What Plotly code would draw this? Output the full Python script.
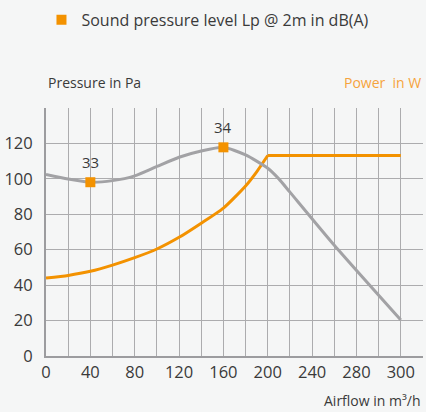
import plotly.graph_objects as go

# Airflow positions (as drawn on the chart's axis)
pressure_x = [0, 20, 40, 60, 80, 100, 120, 140, 160, 180, 200, 210, 220, 260, 320]
pressure_pa = [102.5, 99.9, 98.1, 99.0, 101.7, 107.0, 112.2, 115.7, 117.8, 113.5, 106.0, 100.0, 92.5, 62.5, 20.3]

power_x = [0, 20, 40, 60, 80, 100, 120, 140, 160, 180, 190, 200, 320]
power_w = [44.0, 45.5, 47.8, 51.3, 55.5, 60.4, 67.0, 75.0, 83.5, 96.0, 104.0, 113.2, 113.2]

sound_x = [40, 160]
sound_p = [98.1, 117.8]
sound_db = ["33", "34"]

x_tick_vals = [0, 40, 80, 120, 160, 200, 240, 280, 320]
x_tick_labels = ["0", "40", "80", "120", "160", "200", "240", "280", "300"]
y_tick_vals = [0, 20, 40, 60, 80, 100, 120]

ORANGE = "#f39200"
GREY = "#a2a2a5"
TEXT = "#3a3a3a"
FONT = "Open Sans"

fig = go.Figure()
# rising part of the power curve (smooth) and the flat plateau (straight)
fig.add_trace(go.Scatter(x=power_x[:-1], y=power_w[:-1], mode="lines",
                         line=dict(color=ORANGE, width=3, shape="spline", smoothing=0.6),
                         showlegend=False, hoverinfo="skip"))
fig.add_trace(go.Scatter(x=power_x[-2:], y=power_w[-2:], mode="lines",
                         line=dict(color=ORANGE, width=3),
                         showlegend=False, hoverinfo="skip"))
fig.add_trace(go.Scatter(x=pressure_x, y=pressure_pa, mode="lines",
                         line=dict(color=GREY, width=3, shape="spline", smoothing=0.6),
                         showlegend=False, hoverinfo="skip"))
fig.add_trace(go.Scatter(x=sound_x, y=sound_p, mode="markers",
                         marker=dict(symbol="square", size=10, color=ORANGE),
                         name="Sound pressure level Lp @ 2m in dB(A)", showlegend=True))
for sx, sy, st in zip(sound_x, sound_p, sound_db):
    fig.add_annotation(x=sx, y=sy, text=st, showarrow=False, yanchor="middle", yshift=20,
                       font=dict(size=15, color=TEXT, family=FONT))

grid_x = list(range(0, 341, 20))
fig.update_xaxes(range=[0, 340], tickvals=grid_x,
                 ticktext=[x_tick_labels[x_tick_vals.index(v)] if v in x_tick_vals else "" for v in grid_x],
                 showgrid=True, gridcolor="#acacae", gridwidth=1,
                 showline=True, linecolor="#9c9c9f", linewidth=2,
                 ticks="", tickfont=dict(size=16.5, color=TEXT, family=FONT), zeroline=False, fixedrange=True)
grid_y = list(range(0, 141, 20))
fig.update_yaxes(range=[0, 140], tickvals=grid_y,
                 ticktext=[str(v) if v in y_tick_vals else "" for v in grid_y],
                 showgrid=True, gridcolor="#acacae", gridwidth=1,
                 showline=True, linecolor="#9c9c9f", linewidth=2,
                 ticks="outside", ticklen=8, tickcolor="rgba(0,0,0,0)",
                 tickfont=dict(size=16.5, color=TEXT, family=FONT), zeroline=False, fixedrange=True)

fig.add_annotation(text="Pressure in Pa", xref="paper", yref="paper", x=0, y=1, xanchor="left", yanchor="bottom",
                   yshift=14, showarrow=False, font=dict(size=14, color=TEXT, family=FONT))
fig.add_annotation(text="Power  in W", xref="paper", yref="paper", x=1, y=1, xanchor="right", yanchor="bottom",
                   yshift=14, showarrow=False, font=dict(size=14, color="#f5a33c", family=FONT))
fig.add_annotation(text="Airflow in m³/h", xref="paper", yref="paper", x=1, y=0, xanchor="right", yanchor="top",
                   yshift=-33, showarrow=False, font=dict(size=14, color=TEXT, family=FONT))

fig.update_layout(
    width=426, height=412,
    margin=dict(l=46, r=3, t=99, b=56),
    paper_bgcolor="#f5f6f6", plot_bgcolor="#f5f6f6",
    font=dict(family=FONT, color=TEXT),
    legend=dict(x=-0.012, y=1.355, xanchor="left", yanchor="middle", bgcolor="rgba(0,0,0,0)",
                font=dict(size=16, color=TEXT, family=FONT)),
)
fig.write_html("out.html", config={"displayModeBar": False},
               post_script="document.body.style.margin='0';document.body.style.overflow='hidden';")
